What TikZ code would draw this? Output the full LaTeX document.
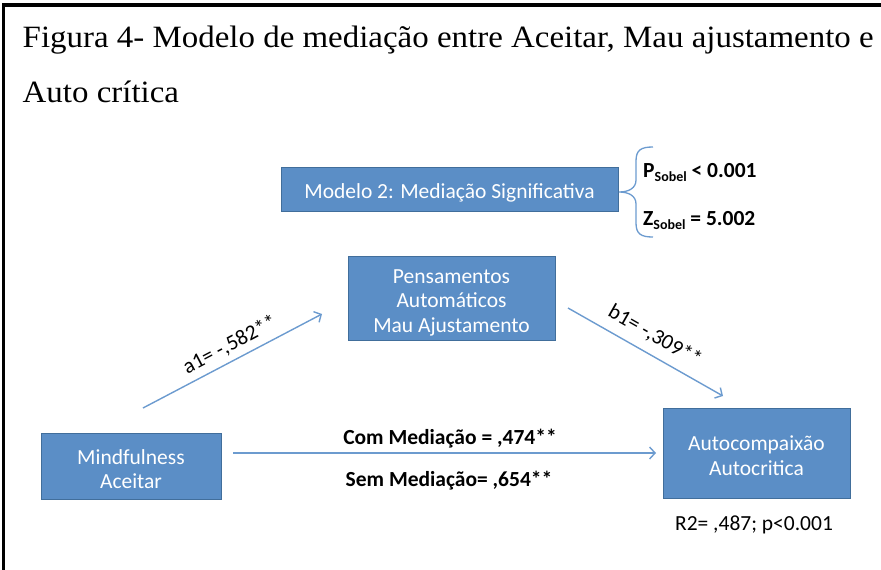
\documentclass[tikz,border=0pt]{standalone}
\usepackage{fontspec}
\usepackage{graphicx}
\setmainfont{Carlito}
\newfontfamily\tnr{Liberation Serif}
\usetikzlibrary{arrows.meta}
\definecolor{boxfill}{RGB}{91,142,198}
\definecolor{boxdraw}{RGB}{65,110,155}
\definecolor{linecol}{RGB}{108,155,207}
\newlength\titw
\begin{document}
\settowidth{\titw}{\tnr\fontsize{31}{38}\selectfont Figura 4- Modelo de mediação entre Aceitar, Mau ajustamento e}%
\pgfmathsetmacro\sx{851/\titw}%
\begin{tikzpicture}[x=1pt,y=-1pt,
  box/.style={draw=boxdraw, line width=0.9pt, fill=boxfill, inner sep=0pt},
  boxtext/.style={text=white, font=\fontsize{21.5}{24.5}\selectfont, align=center, inner sep=0pt},
  conn/.style={draw=linecol, line width=1.4pt, -{Straight Barb[length=5.5pt,width=12pt]}},
  lbl/.style={font=\fontsize{21.5}{24}\selectfont, inner sep=0pt},
  blbl/.style={font=\bfseries\fontsize{21.5}{24}\selectfont, inner sep=0pt},
  ttl/.style={font=\tnr\fontsize{31}{38}\selectfont, inner sep=0pt, anchor=base west},
]
\useasboundingbox (0,0) rectangle (881,570);
\draw[line width=3.2pt] (3.5,570) -- (3.5,5) -- (881,5);

\node[ttl] (t1) at (22.5,47.5) {\scalebox{\sx}[1]{Figura 4- Modelo de mediação entre Aceitar, Mau ajustamento e}};
\node[ttl] (t2) at (22.5,102) {\scalebox{\sx}[1]{Auto crítica}};

% boxes
\node[box, minimum width=337pt, minimum height=44pt] (mod) at (449.5,189) {};
\node[boxtext] (modt) at ([yshift=-3.5pt]mod.center) {Modelo 2: Mediação Significativa};
\node[box, minimum width=207pt, minimum height=84pt] (pens) at (451.5,298) {};
\node[boxtext] (penst) at ([yshift=-4.5pt]pens.center) {Pensamentos\\Automáticos\\Mau Ajustamento};
\node[box, minimum width=180pt, minimum height=66pt] (mind) at (131,466) {};
\node[boxtext] (mindt) at ([yshift=-3pt]mind.center) {Mindfulness\\Aceitar};
\node[box, minimum width=187pt, minimum height=90pt] (auto) at (756.5,453) {};
\node[boxtext] (autot) at ([yshift=-2.5pt]auto.center) {Autocompaixão\\Autocritica};

% brace and Sobel statistics
\coordinate (brt) at (653,147);
\coordinate (brb) at (653,237);
\coordinate (brtip) at (619,192);
\draw[linecol, line width=1.3pt]
  (brt) .. controls (641,147) and (636,150) .. (636,161) -- (636,180)
  .. controls (636,188) and (629,192) .. (brtip)
  .. controls (629,192) and (636,196) .. (636,204) -- (636,223)
  .. controls (636,234) and (641,237) .. (brb);
\node[blbl, anchor=base west] (ps) at (643,177) {P\raisebox{-4.5pt}{\fontsize{14}{14}\selectfont Sobel} < 0.001};
\node[blbl, anchor=base west] (zs) at (643,225) {Z\raisebox{-4.5pt}{\fontsize{14}{14}\selectfont Sobel} = 5.002};

% connectors
\coordinate (a1s) at (143,408);
\coordinate (a1e) at (322,314);
\coordinate (b1s) at (568,308);
\coordinate (b1e) at (723,396);
\coordinate (hs) at (233,453);
\coordinate (he) at (656,453);
\draw[conn] (a1s) -- (a1e);
\draw[conn] (b1s) -- (b1e);
\draw[conn] (hs) -- (he);

% labels
\node[lbl, rotate=27.7] (a1l) at (230,345) {a1= -,582**};
\node[lbl, rotate=-29.6] (b1l) at (655,336) {b1= -,309**};
\node[blbl] (com) at (450,439) {Com Mediação = ,474**};
\node[blbl] (sem) at (449,481) {Sem Mediação= ,654**};
\node[lbl] (r2) at (754,525) {R2= ,487; p<0.001};
\end{tikzpicture}
\end{document}
